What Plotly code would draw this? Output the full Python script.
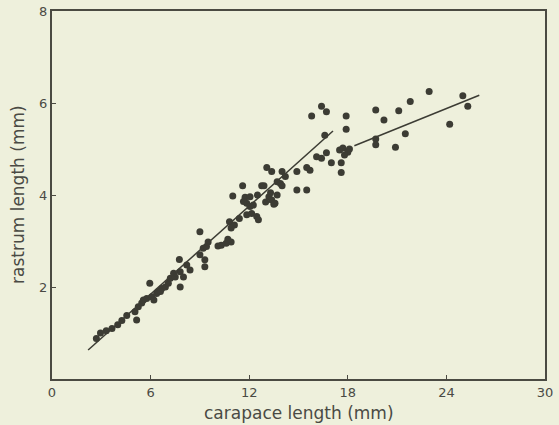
import plotly.graph_objects as go

# scatter data: carapace length (mm) vs rastrum length (mm)
carapace = [2.7, 2.95, 3.3, 3.65, 4.0, 4.25, 4.55, 5.15, 5.05, 5.25, 5.46, 5.56, 5.76, 5.95, 6.07,
            6.37, 6.47, 6.68, 6.9, 7.08, 7.2, 7.5, 7.8, 8.2, 7.8, 7.75, 8.0, 8.4, 7.4, 6.2, 6.6,
            9.0, 9.3, 9.3, 9.0, 9.2, 9.4, 9.5, 10.1, 10.3, 10.6, 10.9, 10.7, 10.8, 11.1, 10.9,
            11.4, 11.85, 12.15, 12.46, 12.56, 11.6, 11.0, 11.75, 11.85, 11.65, 12.25, 12.05,
            12.5, 12.05, 12.76, 12.9, 13.2, 13.7, 13.5, 13.37, 13.57, 13.0, 13.3,
            13.07, 13.37, 14.0, 14.2, 13.7, 13.9, 14.0, 14.9, 14.9, 15.5, 15.7, 15.5,
            15.8, 16.4, 16.7, 17.9, 17.9, 16.6, 16.1, 16.4, 16.7, 17.0, 17.6, 17.6, 17.5,
            17.7, 18.0, 17.8, 18.1,
            19.7, 20.2, 21.1, 21.8, 22.95, 25.0, 25.3, 24.2, 21.5, 20.9, 19.7, 19.7]
rastrum = [0.88, 1.0, 1.05, 1.1, 1.18, 1.27, 1.38, 1.28, 1.46, 1.57, 1.65, 1.72, 1.75, 2.08, 1.79,
           1.86, 1.9, 1.97, 2.0, 2.08, 2.19, 2.22, 2.33, 2.48, 2.0, 2.6, 2.22, 2.37, 2.3, 1.72, 1.9,
           2.7, 2.59, 2.44, 3.2, 2.84, 2.88, 2.98, 2.89, 2.91, 2.95, 2.98, 3.04, 3.42, 3.35, 3.28,
           3.49, 3.57, 3.6, 3.53, 3.46, 4.2, 3.98, 3.95, 3.82, 3.86, 3.78, 3.75,
           4.0, 3.96, 4.2, 4.2, 3.96, 4.0, 3.8, 3.89, 3.82, 3.85, 4.05,
           4.6, 4.51, 4.51, 4.4, 4.29, 4.25, 4.2, 4.51, 4.11, 4.11, 4.54, 4.6,
           5.72, 5.93, 5.81, 5.72, 5.43, 5.3, 4.83, 4.8, 4.92, 4.7, 4.7, 4.49, 4.98,
           5.02, 4.93, 4.87, 5.0,
           5.85, 5.63, 5.83, 6.03, 6.25, 6.16, 5.93, 5.54, 5.33, 5.04, 5.22, 5.09]

# fitted lines
line1_x = [2.2, 17.1]
line1_y = [0.63, 5.39]
line2_x = [18.4, 26.0]
line2_y = [5.07, 6.17]

x_ticks = [0, 6, 12, 18, 24, 30]
y_ticks = [2, 4, 6, 8]
x_title = "carapace length (mm)"
y_title = "rastrum length (mm)"

ink = "#3c3c34"
bg = "#eef0dc"
txt = "#4a4a44"

fig = go.Figure()
fig.add_trace(go.Scatter(x=carapace, y=rastrum, mode="markers",
                         marker=dict(size=7, color=ink, line=dict(width=0)),
                         showlegend=False))
fig.add_trace(go.Scatter(x=line1_x, y=line1_y, mode="lines",
                         line=dict(color=ink, width=1.5), showlegend=False))
fig.add_trace(go.Scatter(x=line2_x, y=line2_y, mode="lines",
                         line=dict(color=ink, width=1.5), showlegend=False))

axis_common = dict(showgrid=False, zeroline=False, showline=True, mirror=True,
                   linecolor="#4a4a42", linewidth=2, ticks="inside", ticklen=4,
                   tickcolor="#4a4a42", tickfont=dict(size=13, color=txt,
                                                      family="DejaVu Sans, sans-serif"),
                   automargin=False, ticklabeloverflow="allow")

fig.update_layout(
    width=559, height=425,
    paper_bgcolor=bg, plot_bgcolor=bg,
    margin=dict(l=52, r=14, t=11, b=46),
    font=dict(family="DejaVu Sans, sans-serif", color=txt),
    xaxis=dict(range=[0, 30], tickvals=x_ticks, ticktext=[str(v) for v in x_ticks],
               ticklabelstandoff=0, **axis_common),
    yaxis=dict(range=[0, 8], tickvals=y_ticks, ticktext=[str(v) for v in y_ticks],
               **axis_common),
    annotations=[
        dict(text=x_title, xref="paper", yref="paper", x=0.5, y=0, yshift=-34,
             xanchor="center", yanchor="middle", showarrow=False,
             font=dict(size=17, color=txt)),
        dict(text=y_title, xref="paper", yref="paper", x=0, y=0.5, xshift=-34,
             xanchor="center", yanchor="middle", showarrow=False, textangle=-90,
             font=dict(size=17, color=txt)),
    ],
)

fig.write_html("out.html",
               config={"displayModeBar": False},
               post_script="document.body.style.margin='0';document.body.style.background='" + bg + "';")
